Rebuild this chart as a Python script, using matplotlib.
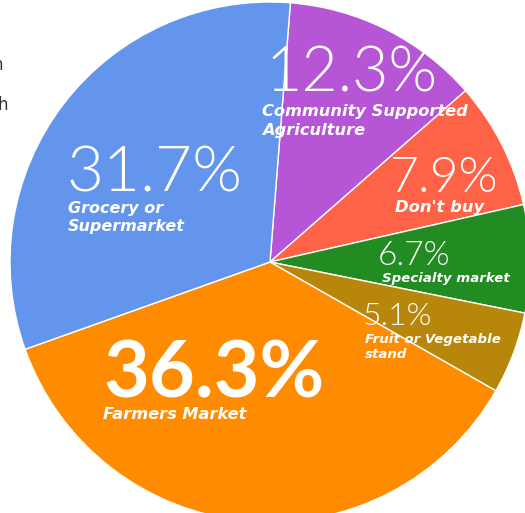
import matplotlib
matplotlib.use("Agg")
import matplotlib.pyplot as plt

# Où les gens achètent leurs fruits et légumes (parts en %)
categories = [
    "Community Supported\nAgriculture",
    "Don't buy",
    "Specialty market",
    "Fruit or Vegetable\nstand",
    "Farmers Market",
    "Grocery or\nSupermarket",
]
shares = [12.3, 7.9, 6.7, 5.1, 36.3, 31.7]
colors = ["#B655D6", "#FF6347", "#228B22", "#B8860B", "#FF8C00", "#6495ED"]

W, H = 525, 513

# position (pixels, coin haut-gauche) et tailles des textes de chaque part
pct_pos = [(266, 92), (390, 192), (378, 265), (363, 325), (103, 398), (66, 192)]
pct_size = [45, 36, 24, 23, 57, 46]
lab_pos = [(262, 116), (395, 212), (382, 282), (365, 343), (103, 419), (68, 213)]
lab_size = [11.7, 11.8, 9.6, 9.6, 11.7, 11.5]


def y_px(y):
    return H - y


fig = plt.figure(figsize=(W / 100, H / 100), dpi=100)
ax = fig.add_axes([0, 0, 1, 1])

ax.pie(
    shares,
    colors=colors,
    startangle=85.5,
    counterclock=False,
    radius=260,
    center=(270, y_px(262)),
    wedgeprops=dict(edgecolor="white", linewidth=1),
)
ax.set_xlim(0, W)
ax.set_ylim(0, H)
ax.set_aspect("equal")
ax.axis("off")

for i, (cat, val) in enumerate(zip(categories, shares)):
    x, y = pct_pos[i]
    gras = val == max(shares)
    ax.text(
        x, y_px(y), f"{val:.1f}%",
        color="white", fontsize=pct_size[i],
        family="Lato", fontweight=700 if gras else 300,
        ha="left", va="baseline",
    )
    lx, ly = lab_pos[i]
    lignes = cat.split("\n")
    for k, ligne in enumerate(lignes):
        ax.text(
            lx, y_px(ly) - k * lab_size[i] * 1.6, ligne,
            color="white", fontsize=lab_size[i],
            family="DejaVu Sans", fontweight="bold", fontstyle="italic",
            ha="left", va="baseline",
        )

# restes de texte coupés sur le bord gauche
fig.text(3 / W, 1 - 70 / H, "n", color="#333333", fontsize=12, ha="right", va="baseline")
fig.text(8 / W, 1 - 110 / H, "h", color="#333333", fontsize=12, ha="right", va="baseline")

fig.savefig("out.png", dpi=100)
